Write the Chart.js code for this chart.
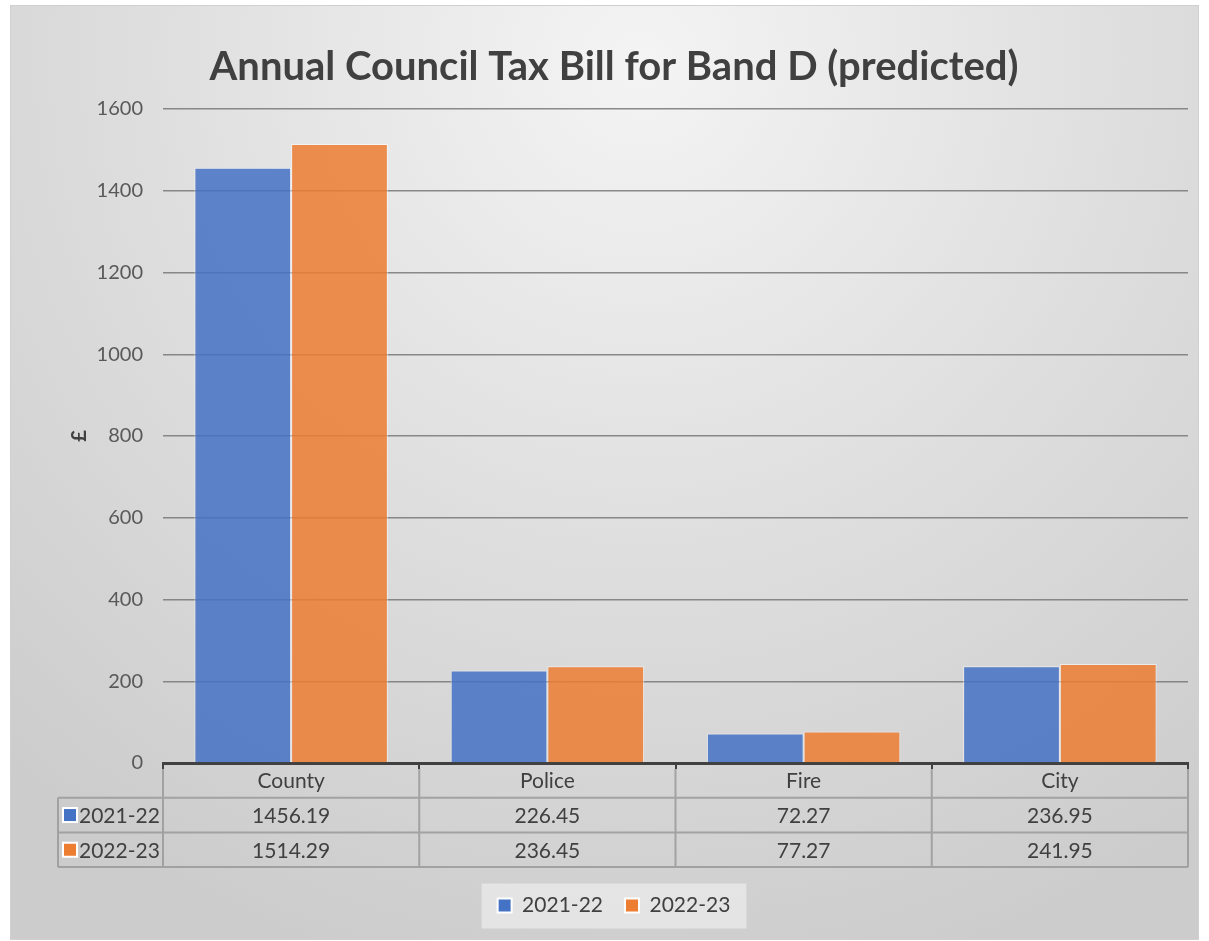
<!DOCTYPE html>
<html>
<head>
<meta charset="utf-8">
<title>Annual Council Tax Bill for Band D (predicted)</title>
<script src="https://cdn.jsdelivr.net/npm/chart.js@4.4.1/dist/chart.umd.min.js"></script>
<style>
  html, body { margin: 0; padding: 0; background: #fff; }
  canvas { display: block; }
</style>
</head>
<body>
<canvas id="myChart" width="1209" height="941"></canvas>
<script>
// chart data
var categories = ['County', 'Police', 'Fire', 'City'];
var seriesNames = ['2021-22', '2022-23'];
var values2021 = [1456.19, 226.45, 72.27, 236.95];
var values2022 = [1514.29, 236.45, 77.27, 241.95];
var yMin = 0;
var yMax = 1600;
var yStep = 200;

var solidColors = ['#4472C4', '#ED7D31'];
var barColors = ['rgba(68, 114, 196, 0.85)', 'rgba(237, 125, 49, 0.85)'];
var textColor = '#404040';
var fontFamily = 'Lato, "Open Sans", sans-serif';

// grey gradient background + outer border
var background = {
    id: 'background',
    beforeDraw: function (chart) {
        var ctx = chart.ctx;
        ctx.save();
        ctx.fillStyle = '#ffffff';
        ctx.fillRect(0, 0, chart.width, chart.height);
        var g = ctx.createRadialGradient(640, 60, 0, 640, 60, 950);
        g.addColorStop(0, '#f4f4f4');
        g.addColorStop(0.55, '#dddddd');
        g.addColorStop(1, '#cccccc');
        ctx.fillStyle = g;
        ctx.fillRect(10, 5, chart.width - 20, chart.height - 6);
        ctx.strokeStyle = '#d0d0d0';
        ctx.lineWidth = 1;
        ctx.strokeRect(10.5, 5.5, chart.width - 21, chart.height - 7);

        // legend box
        var boxes = chart.legend.legendHitBoxes;
        if (boxes && boxes.length) {
            var first = boxes[0];
            var last = boxes[boxes.length - 1];
            ctx.fillStyle = 'rgba(235, 235, 235, 0.75)';
            ctx.fillRect(first.left - 16, first.top + first.height / 2 - 22,
                last.left + last.width - first.left + 32, 45);
        }
        ctx.restore();
    }
};

// excel-like data table under the x axis
var dataTable = {
    id: 'dataTable',
    afterDraw: function (chart) {
        var ctx = chart.ctx;
        var xs = chart.scales.x;
        var top = chart.chartArea.bottom;
        var rowH = 34.7;
        var keyLeft = 58;
        var colW = (xs.right - xs.left) / categories.length;
        var rows = [values2021, values2022];

        ctx.save();
        ctx.strokeStyle = 'rgba(150, 150, 150, 0.8)';
        ctx.lineWidth = 2;
        ctx.beginPath();
        for (var r = 1; r <= 3; r++) {
            var ly = top + r * rowH;
            ctx.moveTo(keyLeft, ly);
            ctx.lineTo(xs.right, ly);
        }
        for (var i = 0; i <= categories.length; i++) {
            var lx = xs.left + i * colW;
            ctx.moveTo(lx, top + 6);
            ctx.lineTo(lx, top + 3 * rowH);
        }
        ctx.moveTo(keyLeft, top + rowH);
        ctx.lineTo(keyLeft, top + 3 * rowH);
        ctx.stroke();

        ctx.fillStyle = textColor;
        ctx.font = '21px ' + fontFamily;
        ctx.textAlign = 'center';
        ctx.textBaseline = 'middle';
        categories.forEach(function (c, i) {
            var cx = xs.getPixelForValue(i);
            ctx.fillText(c, cx, top + rowH / 2 + 1);
            rows.forEach(function (vals, r) {
                ctx.fillText(vals[i].toFixed(2), cx, top + (r + 1.5) * rowH + 1);
            });
        });

        ctx.textAlign = 'left';
        seriesNames.forEach(function (name, r) {
            var cy = top + (r + 1.5) * rowH;
            ctx.fillStyle = '#ffffff';
            ctx.fillRect(62, cy - 8, 16, 16);
            ctx.fillStyle = solidColors[r];
            ctx.fillRect(64, cy - 6, 12, 12);
            ctx.fillStyle = textColor;
            ctx.fillText(name, 79, cy + 1);
        });
        ctx.restore();
    }
};

var ctx = document.getElementById('myChart').getContext('2d');

var myChart = new Chart(ctx, {
    type: 'bar',
    data: {
        labels: categories,
        datasets: [{
            label: seriesNames[0],
            data: values2021,
            backgroundColor: barColors[0],
            borderColor: 'rgba(255, 255, 255, 0.55)',
            borderWidth: 1
        }, {
            label: seriesNames[1],
            data: values2022,
            backgroundColor: barColors[1],
            borderColor: 'rgba(255, 255, 255, 0.55)',
            borderWidth: 1
        }]
    },
    options: {
        responsive: false,
        animation: false,
        devicePixelRatio: 1,
        layout: {
            padding: { top: 0, left: 40, right: 21, bottom: 15 }
        },
        datasets: {
            bar: { categoryPercentage: 0.755, barPercentage: 1.0 }
        },
        scales: {
            x: {
                grid: {
                    drawOnChartArea: false,
                    offset: true,
                    tickLength: 6,
                    color: textColor,
                    lineWidth: 2
                },
                border: { color: textColor, width: 3 },
                ticks: { display: false },
                afterFit: function (scale) { scale.height = 110; }
            },
            y: {
                min: yMin,
                max: yMax,
                ticks: {
                    stepSize: yStep,
                    color: '#595959',
                    padding: 20,
                    font: { family: fontFamily, size: 20 },
                    callback: function (v) { return String(v); }
                },
                grid: {
                    drawTicks: false,
                    color: 'rgba(120, 120, 120, 0.85)',
                    lineWidth: 1.5
                },
                border: { display: false },
                title: {
                    display: true,
                    text: '£',
                    color: textColor,
                    padding: { top: 28 },
                    font: { family: fontFamily, size: 20, weight: 'bold' }
                },
                afterFit: function (scale) { scale.width = 123; }
            }
        },
        plugins: {
            title: {
                display: true,
                text: 'Annual Council Tax Bill for Band D (predicted)',
                color: textColor,
                font: { family: fontFamily, size: 40, weight: 'bold' },
                padding: { top: 43, bottom: 18 }
            },
            legend: {
                position: 'bottom',
                labels: {
                    color: textColor,
                    boxWidth: 14,
                    boxHeight: 14,
                    padding: 22,
                    font: { family: fontFamily, size: 21 },
                    generateLabels: function (chart) {
                        return seriesNames.map(function (name, i) {
                            return {
                                text: name,
                                fillStyle: solidColors[i],
                                strokeStyle: '#ffffff',
                                lineWidth: 2,
                                fontColor: textColor,
                                datasetIndex: i
                            };
                        });
                    }
                }
            },
            tooltip: { enabled: false }
        }
    },
    plugins: [background, dataTable]
});
</script>
</body>
</html>
